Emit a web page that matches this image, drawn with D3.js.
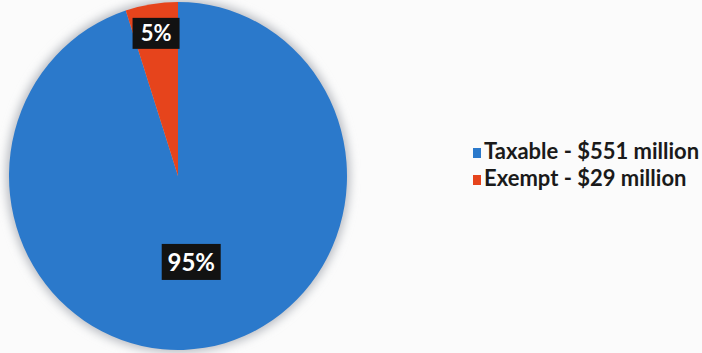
<!DOCTYPE html>
<html>
<head>
<meta charset="utf-8">
<script src="https://cdn.jsdelivr.net/npm/d3@7"></script>
<style>
  body { margin: 0; background: #fbfbfb; }
  svg { display: block; }
  .legend text { font-family: Lato, "Open Sans", sans-serif; font-size: 22px; font-weight: bold; fill: #1a1a1a; }
  .pct { font-family: Lato, "Open Sans", sans-serif; font-weight: bold; fill: #fff; }
</style>
</head>
<body>
<div id="chart"></div>
<script>
// values
var categories = ["Taxable", "Exempt"];
var amounts = [551, 29];           // $ million
var percentLabels = ["95%", "5%"];
var legendLabels = ["Taxable - $551 million", "Exempt - $29 million"];
var colors = ["#2b79cb", "#e6441c"];

var config = {
  width: 702,
  height: 353,
  cx: 178,
  cy: 176,
  rx: 169,
  ry: 174
};

var svg = d3.select("#chart").append("svg")
    .attr("width", config.width)
    .attr("height", config.height);

var defs = svg.append("defs");
defs.append("filter").attr("id", "haze")
    .attr("x", "-20%").attr("y", "-20%").attr("width", "140%").attr("height", "140%")
  .append("feGaussianBlur").attr("stdDeviation", 5);

var data = categories.map(function(c, i) {
  return { name: c, value: amounts[i], pct: percentLabels[i], legend: legendLabels[i], color: colors[i] };
});

var pie = d3.pie().sort(null).value(function(d) { return d.value; });
var arcs = pie(data);

var R = config.ry;
var sx = config.rx / config.ry;
var arc = d3.arc().innerRadius(0).outerRadius(R);

// soft grey halo from the scan
svg.append("ellipse")
    .attr("cx", config.cx).attr("cy", config.cy)
    .attr("rx", config.rx + 3).attr("ry", config.ry + 3)
    .attr("fill", "#b9bcc2")
    .attr("filter", "url(#haze)");

var g = svg.append("g")
    .attr("transform", "translate(" + config.cx + "," + config.cy + ") scale(" + sx + ",1)");

g.selectAll("path")
    .data(arcs)
  .enter().append("path")
    .attr("d", arc)
    .attr("fill", function(d) { return d.data.color; });

// labels: big slice near middle, thin slice near rim
var labelR = function(d) { return (d.endAngle - d.startAngle) > 1 ? R * 0.5 : R * 0.83; };
var labels = svg.append("g")
    .attr("transform", "translate(" + config.cx + "," + config.cy + ")");

var lab = labels.selectAll("g")
    .data(arcs)
  .enter().append("g")
    .attr("transform", function(d) {
      var r = labelR(d);
      var c = d3.arc().innerRadius(r).outerRadius(r).centroid(d);
      return "translate(" + (c[0] * sx) + "," + c[1] + ")";
    });

lab.each(function(d) {
  var big = (d.endAngle - d.startAngle) > 1;
  var w = big ? 59 : 47, h = big ? 36 : 31;
  var s = d3.select(this);
  s.append("rect")
      .attr("x", -w / 2).attr("y", -h / 2)
      .attr("width", w).attr("height", h)
      .attr("fill", "#121212");
  s.append("text")
      .attr("class", "pct")
      .attr("text-anchor", "middle")
      .attr("dy", "0.36em")
      .style("font-size", big ? "24px" : "22px")
      .text(d.data.pct);
});

// legend
var legend = svg.append("g")
    .attr("class", "legend")
    .attr("transform", "translate(473,148)");

var item = legend.selectAll("g")
    .data(data)
  .enter().append("g")
    .attr("transform", function(d, i) { return "translate(0," + (i * 27) + ")"; });

item.append("rect")
    .attr("width", 8).attr("height", 10)
    .attr("fill", function(d) { return d.color; });

item.append("text")
    .attr("x", 11)
    .attr("y", 11)
    .text(function(d) { return d.legend; });
</script>
</body>
</html>
